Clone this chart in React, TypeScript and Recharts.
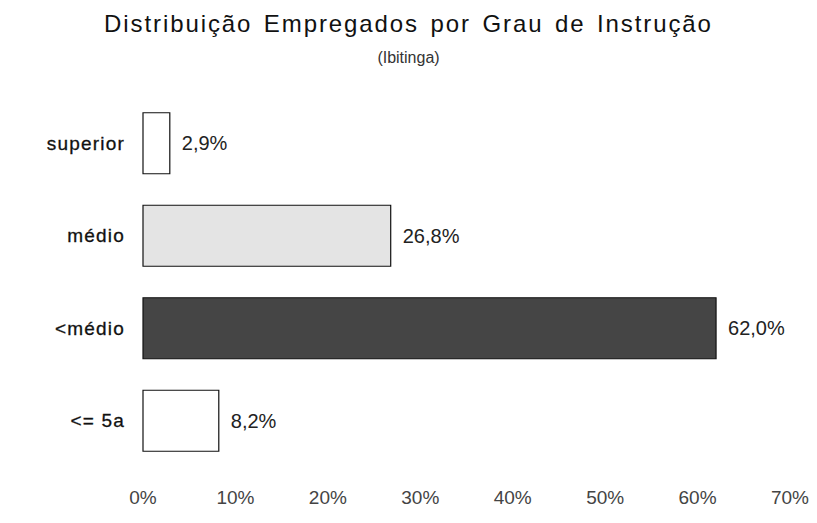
import { BarChart, Bar, XAxis, YAxis, Cell, LabelList } from 'recharts';

const categories = ['superior', 'médio', '<médio', '<= 5a'];
const shares = [2.9, 26.8, 62.0, 8.2];
const xTicks = [0, 10, 20, 30, 40, 50, 60, 70];

const BAR_FILLS = ['#ffffff', '#e4e4e4', '#454545', '#ffffff'];

const data = categories.map((name, i) => ({ name, value: shares[i] }));

const FONT = '"Liberation Sans", Arial, sans-serif';

export default function App() {
  return (
    <div style={{ position: 'absolute', left: 0, top: 0, width: 817, height: 523, background: '#fff', fontFamily: FONT }}>
      <div
        style={{
          position: 'absolute', left: 0, width: 817, top: 10, textAlign: 'center',
          fontSize: 24, letterSpacing: 1.9, wordSpacing: 3, color: '#111',
        }}
      >
        Distribuição Empregados por Grau de Instrução
      </div>
      <div
        style={{
          position: 'absolute', left: 0, width: 817, top: 49, textAlign: 'center',
          fontSize: 16, color: '#333',
        }}
      >
        (Ibitinga)
      </div>
      <BarChart
        width={817}
        height={523}
        data={data}
        layout="vertical"
        margin={{ top: 97, right: 27, bottom: 16, left: 0 }}
        barCategoryGap="17%"
      >
        <XAxis
          type="number"
          domain={[0, 70]}
          ticks={xTicks}
          tickFormatter={(v: number) => `${v}%`}
          axisLine={false}
          tickLine={false}
          tickSize={0}
          tickMargin={24}
          height={40}
          tick={{ fontSize: 19, fill: '#444', fontFamily: FONT }}
          interval={0}
        />
        <YAxis
          type="category"
          dataKey="name"
          width={143}
          axisLine={false}
          tickLine={false}
          tickSize={0}
          tickMargin={18}
          tick={{ fontSize: 19, fill: '#111', stroke: '#111', strokeWidth: 0.3, fontFamily: FONT, letterSpacing: 1.2 }}
        />
        <Bar dataKey="value" stroke="#111" strokeWidth={1.2} isAnimationActive={false}>
          {data.map((_, i) => (
            <Cell key={i} fill={BAR_FILLS[i]} />
          ))}
          <LabelList
            dataKey="value"
            position="right"
            offset={12}
            formatter={(v: number) => `${v.toFixed(1).replace('.', ',')}%`}
            style={{ fontSize: 20, fill: '#222', fontFamily: FONT }}
          />
        </Bar>
      </BarChart>
    </div>
  );
}
